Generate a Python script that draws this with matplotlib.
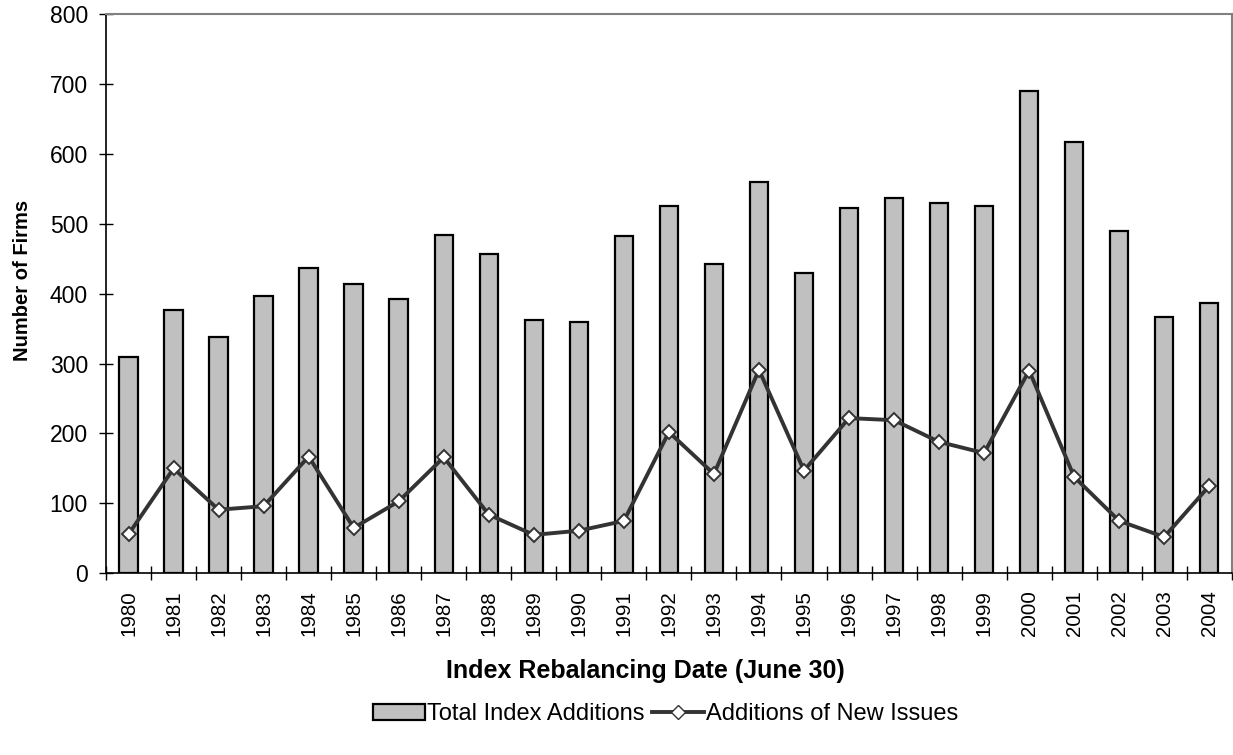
import matplotlib
matplotlib.use("Agg")
import matplotlib.pyplot as plt
import numpy as np
from matplotlib.patches import Patch
from matplotlib.lines import Line2D

plt.rcParams['font.family'] = ['Liberation Sans', 'DejaVu Sans']

years = [str(y) for y in range(1980, 2005)]
total_additions = [309, 376, 338, 396, 437, 414, 392, 484, 457, 362, 359, 482, 525,
                   442, 559, 430, 522, 537, 529, 526, 690, 617, 489, 367, 387]
new_issues = [56, 150, 91, 96, 167, 65, 103, 166, 84, 55, 61, 75, 202,
              142, 291, 147, 222, 219, 188, 172, 290, 138, 75, 52, 125]

fig = plt.figure(figsize=(12.33, 7.55), dpi=100)
ax = fig.add_axes([0.086, 0.2406, 0.913, 0.741])

x = np.arange(len(years))
ax.bar(x, total_additions, width=0.41, color='#C0C0C0', edgecolor='black', linewidth=1.6, zorder=2)
ax.plot(x, new_issues, color='#333333', linewidth=2.8, marker='D', markersize=7.5,
        markerfacecolor='white', markeredgecolor='#333333', markeredgewidth=1.4, zorder=3)

ax.set_xlim(-0.5, len(years) - 0.5)
ax.set_ylim(0, 800)
ax.set_yticks(range(0, 801, 100))
ax.set_xticks(x)
ax.set_xticklabels(years, rotation=90, fontsize=14.8)
ax.set_xticks(np.arange(-0.5, len(years), 1), minor=True)
ax.tick_params(axis='x', which='major', length=0, pad=12)
ax.tick_params(axis='x', which='minor', direction='inout', length=10, width=1, color='black')
ax.tick_params(axis='y', direction='inout', length=10, width=1, labelsize=16.5, pad=8)

for s in ['left', 'bottom']:
    ax.spines[s].set_color('black')
    ax.spines[s].set_linewidth(1.2)
for s in ['top', 'right']:
    ax.spines[s].set_color('#808080')
    ax.spines[s].set_linewidth(1.5)

ax.set_ylabel('Number of Firms', fontsize=14.5, fontweight='bold')
ax.yaxis.set_label_coords(-0.066, 0.524)
ax.set_xlabel('Index Rebalancing Date (June 30)', fontsize=18, fontweight='bold')
ax.xaxis.set_label_coords(0.479, -0.153)

handles = [Patch(facecolor='#C0C0C0', edgecolor='black', linewidth=1.6, label='Total Index Additions'),
           Line2D([0], [0], color='#333333', linewidth=2.8, marker='D', markersize=7,
                  markerfacecolor='white', markeredgecolor='#333333', label='Additions of New Issues')]
fig.legend(handles=handles, loc='center', bbox_to_anchor=(0.540, 0.054), ncol=2, frameon=False,
           fontsize=17, handlelength=2.2, handletextpad=0.1, columnspacing=0.3)

fig.savefig('out.png', dpi=100)
